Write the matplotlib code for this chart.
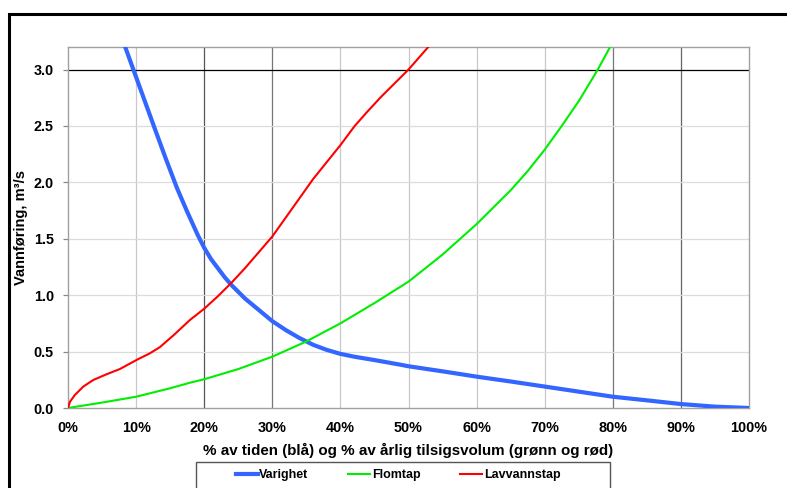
import matplotlib.pyplot as plt
from matplotlib.patches import Rectangle

plt.rcParams['font.family'] = ['Liberation Sans', 'DejaVu Sans']
plt.rcParams['font.weight'] = 'bold'

# Varighet (duration curve), % of time -> m3/s
var_x = [8.4, 9.6, 11.1, 12.6, 14.3, 16.0, 17.5, 19.0, 20.0, 21.0, 22.0, 23.0,
         24.0, 25.0, 26.0, 27.0, 28.0, 30.0, 32.0, 34.0, 36.0, 38.0, 40.0,
         42.0, 45.0, 48.7, 50.0, 55.0, 60.0, 65.0, 70.0, 75.0, 80.0, 85.0, 90.0,
         95.0, 100.0]
var_y = [3.2, 3.0, 2.75, 2.5, 2.22, 1.95, 1.74, 1.54, 1.42, 1.32, 1.24, 1.16,
         1.09, 1.03, 0.97, 0.92, 0.87, 0.77, 0.69, 0.62, 0.56, 0.515, 0.48,
         0.455, 0.425, 0.385, 0.37, 0.325, 0.278, 0.235, 0.19, 0.145, 0.10, 0.068, 0.035,
         0.012, 0.0]

# Flomtap, % of annual inflow volume -> m3/s
flom_x = [0, 5, 10, 15, 17.9, 20, 25, 30, 35, 40, 45, 50, 55, 60, 62.5, 65,
          67.5, 70, 72.5, 75, 77.8, 79.6]
flom_y = [0, 0.048, 0.1, 0.175, 0.224, 0.255, 0.345, 0.455, 0.59, 0.75, 0.93, 1.12,
          1.36, 1.63, 1.78, 1.93, 2.10, 2.29, 2.50, 2.72, 3.0, 3.2]

# Lavvannstap, % of annual inflow volume -> m3/s
lav_x = [0, 0.3, 1.0, 2.25, 3.7, 5.7, 7.6, 10.2, 12.0, 13.5, 15.5, 17.9, 20.0,
         22.0, 24.0, 26.0, 28.0, 30.0, 32.0, 34.0, 36.0, 38.0, 40.0, 42.1, 44.0,
         46.0, 48.0, 50.0, 52.9]
lav_y = [0, 0.056, 0.115, 0.19, 0.248, 0.30, 0.345, 0.43, 0.484, 0.54, 0.645,
         0.78, 0.88, 0.99, 1.11, 1.24, 1.38, 1.52, 1.69, 1.86, 2.03, 2.18, 2.33,
         2.5, 2.63, 2.76, 2.88, 3.0, 3.2]

x_ticks = [0, 10, 20, 30, 40, 50, 60, 70, 80, 90, 100]
y_ticks = [0.0, 0.5, 1.0, 1.5, 2.0, 2.5, 3.0]

fig = plt.figure(figsize=(7.87, 4.88), dpi=100)
ax = fig.add_axes([68/787, 80/488, 681/787, 361/488])

# outer frame
fig.patches.append(Rectangle((8.5/787, -0.1), 1.2, 1 - 14/488 + 0.1,
                             transform=fig.transFigure, fill=False,
                             edgecolor='black', linewidth=2.2))
# legend box
fig.patches.append(Rectangle((196/787, -0.1), 414/787, 0.1 + 1 - 462/488,
                             transform=fig.transFigure, fill=False,
                             edgecolor='#555555', linewidth=1))

dark = {20: '#555555', 30: '#777777', 80: '#777777', 90: '#666666'}
for xv in x_ticks[1:-1]:
    ax.axvline(xv, color=dark.get(xv, '#c8c8c8'), linewidth=0.9, zorder=1)
for yv in y_ticks[1:]:
    ax.axhline(yv, color='black' if yv == 3.0 else '#dcdcdc',
               linewidth=0.9, zorder=1)

ax.plot(var_x, var_y, color='#3366ff', linewidth=3, label='Varighet', zorder=3)
ax.plot(flom_x, flom_y, color='#00ee00', linewidth=1.5, label='Flomtap', zorder=3)
ax.plot(lav_x, lav_y, color='#ff0000', linewidth=1.5, label='Lavvannstap', zorder=3)

ax.set_xlim(0, 100)
ax.set_ylim(0, 3.2)
ax.set_xticks(x_ticks)
ax.set_xticklabels([f'{v}%' for v in x_ticks])
ax.set_yticks(y_ticks)
ax.set_yticklabels([f'{v:.1f}' for v in y_ticks])
ax.tick_params(axis='both', labelsize=10.4)
ax.tick_params(axis='y', length=3.6, pad=6.5, color='#888888', width=0.9)
ax.tick_params(axis='x', length=0, pad=9)
for s in ax.spines.values():
    s.set_color('#a0a0a0')
    s.set_linewidth(1)

ax.set_xlabel('% av tiden (blå) og % av årlig tilsigsvolum (grønn og rød)',
              fontsize=10.9, fontweight='bold', labelpad=6)
ax.set_ylabel('Vannføring, m³/s', fontsize=10.5, fontweight='bold', labelpad=4)

leg = fig.legend(loc='center', bbox_to_anchor=(398/787, 1 - 475/488),
                 ncol=3, fontsize=9, frameon=False,
                 handlelength=1.75, handletextpad=0.12, columnspacing=3.2,
                 borderpad=0)

fig.savefig('out.png', dpi=100)
